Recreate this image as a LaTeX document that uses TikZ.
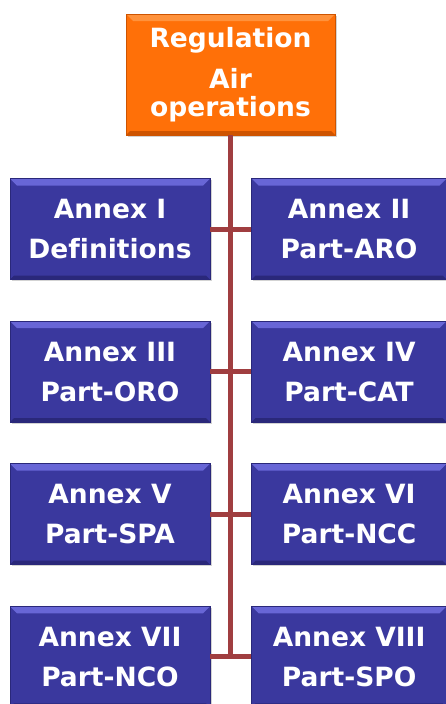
\documentclass[tikz,border=0pt]{standalone}
\usepackage{fontspec}
\setmainfont[Ligatures=NoCommon]{DejaVu Sans}
\usepackage{tikz}
\usetikzlibrary{positioning,shadows}

\definecolor{annexblue}{RGB}{58,56,158}
\definecolor{annexlight}{RGB}{104,102,214}
\definecolor{annexdark}{RGB}{42,40,122}
\definecolor{regorange}{RGB}{255,112,8}
\definecolor{reglight}{RGB}{255,146,60}
\definecolor{regdark}{RGB}{206,84,0}
\definecolor{linkred}{RGB}{160,62,64}

\newcommand{\bevel}[2]{%
  \fill[#1] (path picture bounding box.north west) -- (path picture bounding box.north east)
    -- ([shift={(-7pt,-7pt)}]path picture bounding box.north east)
    -- ([shift={(7pt,-7pt)}]path picture bounding box.north west) -- cycle;
  \fill[#2] (path picture bounding box.south west) -- (path picture bounding box.south east)
    -- ([shift={(-4pt,4pt)}]path picture bounding box.south east)
    -- ([shift={(4pt,4pt)}]path picture bounding box.south west) -- cycle;}

\begin{document}
\begin{tikzpicture}[x=1pt,y=1pt,node distance=41pt,
  reg node/.style={rectangle,fill=regorange,draw=regdark,line width=0.8pt,
    minimum width=209pt,minimum height=121pt,inner sep=0pt,align=center,text=white,
    font=\bfseries\fontsize{26.5}{28}\selectfont,path picture={\bevel{reglight}{regdark}},
    drop shadow={shadow xshift=1.5pt,shadow yshift=-1.5pt,opacity=0.35}},
  annex node/.style={rectangle,fill=annexblue,draw=annexdark,line width=0.6pt,
    minimum width=200pt,minimum height=101pt,inner sep=0pt,align=center,text=white,
    font=\bfseries\fontsize{26.5}{40}\selectfont,path picture={\bevel{annexlight}{annexdark}},
    drop shadow={shadow xshift=1.5pt,shadow yshift=-1.5pt,opacity=0.35}},
  link/.style={draw=linkred,line width=5pt}]
  \useasboundingbox (0,0) rectangle (446,-704);
  \node[reg node] (1) at (230.5,-74.5) {Regulation\\[13pt]Air\\operations};
  \node[annex node] (2) at (110,-229) {Annex I\\Definitions};
  \node[annex node,minimum width=195pt] (3) [right=of 2] {Annex II\\Part-ARO};
  \node[annex node] (4) [below=of 2] {Annex III\\Part-ORO};
  \node[annex node,minimum width=195pt] (5) [right=of 4] {Annex IV\\Part-CAT};
  \node[annex node] (6) [below=of 4] {Annex V\\Part-SPA};
  \node[annex node,minimum width=195pt] (7) [right=of 6] {Annex VI\\Part-NCC};
  \node[annex node] (8) [below=of 6] {Annex VII\\Part-NCO};
  \node[annex node,minimum width=195pt] (9) [right=of 8] {Annex VIII\\Part-SPO};
  \coordinate (10) at (1 |- 8);

  \path
    (1) edge[link] (10)
    (2) edge[link] (3)
    (4) edge[link] (5)
    (6) edge[link] (7)
    (8) edge[link] (9);
\end{tikzpicture}
\end{document}
